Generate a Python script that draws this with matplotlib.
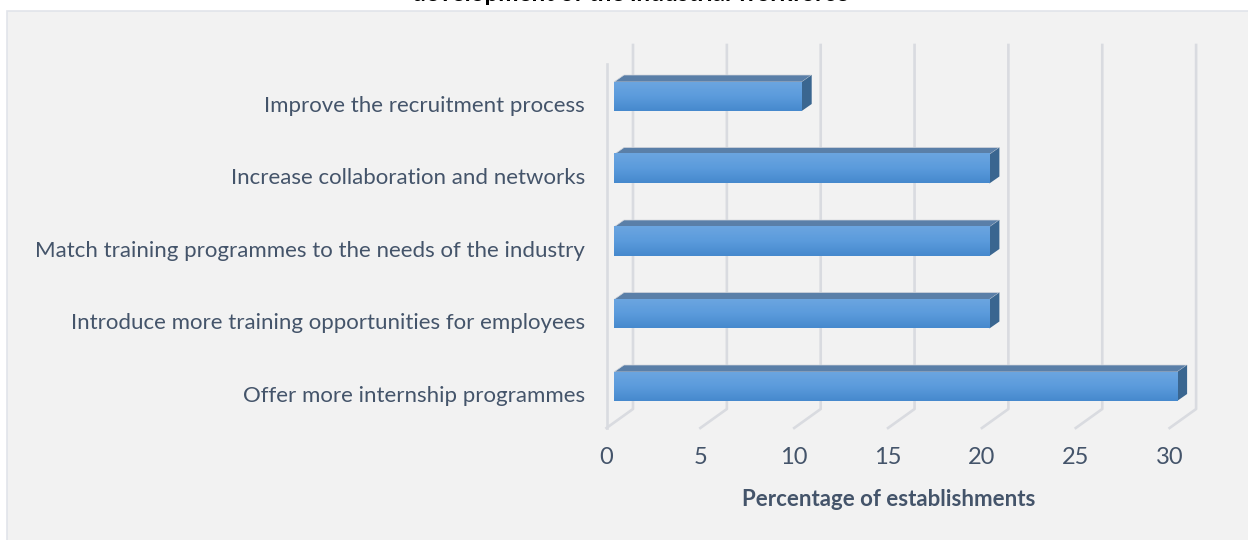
import numpy as np
import matplotlib
matplotlib.use("Agg")
import matplotlib.pyplot as plt
from matplotlib.patches import Polygon, Rectangle

plt.rcParams["font.family"] = ["Lato", "DejaVu Sans"]

# Data, bottom bar first
categories = [
    "Offer more internship programmes",
    "Introduce more training opportunities for employees",
    "Match training programmes to the needs of the industry",
    "Increase collaboration and networks",
    "Improve the recruitment process",
]
values = [30, 20, 20, 20, 10]
xticks = [0, 5, 10, 15, 20, 25, 30]
xlabel = "Percentage of establishments"
# title is cut off by the top edge of the picture, wording is a guess
title = "development of the industrial workforce"

W, H = 1248, 540
px_per_x = 18.77
px_per_y = 72.5
x0_px = 614
y0_px = 386.5

text_col = "#44546a"
grid_col = "#d9dbe0"

fig = plt.figure(figsize=(W / 100, H / 100), dpi=100, facecolor="white")

# panel behind the chart
bg = fig.add_axes([0, 0, 1, 1])
bg.set_xlim(0, W)
bg.set_ylim(H, 0)
bg.axis("off")
bg.add_patch(Rectangle((6.5, 11), W, H, facecolor="#f2f2f2", edgecolor="#e1e4ea", linewidth=1.2))

# axes placed so that x=0..30 and y=0..4 land on the bars
left = x0_px / W
width = 30 * px_per_x / W
bottom = (H - y0_px) / H
height = 4 * px_per_y / H
ax = fig.add_axes([left, bottom, width, height])
ax.set_xlim(0, 30)
ax.set_ylim(0, 4)
ax.axis("off")
ax.patch.set_visible(False)

bar_h = 0.4
dep_x = 10 / px_per_x
dep_y = 7 / px_per_y

# wall and floor offsets of the gridlines
back_x = 19 / px_per_x
front_x = -7.5 / px_per_x
top_back = (y0_px - 45) / px_per_y
top_front = (y0_px - 64) / px_per_y
floor_back = (y0_px - 409) / px_per_y
floor_front = (y0_px - 428) / px_per_y

for t in xticks:
    ax.plot([t + back_x, t + back_x, t + front_x],
            [top_back, floor_back, floor_front],
            color=grid_col, lw=1.9, clip_on=False, zorder=1, solid_joinstyle="round")
ax.plot([front_x, front_x], [top_front, floor_front],
        color=grid_col, lw=1.9, clip_on=False, zorder=1)

grad = np.linspace(0, 1, 64).reshape(-1, 1)
cmap = matplotlib.colors.LinearSegmentedColormap.from_list("bar", ["#6ba5e0", "#5b9bdc", "#4689cd"])

for i, v in enumerate(values):
    y1, y2 = i - bar_h / 2, i + bar_h / 2
    # top face
    ax.add_patch(Polygon([(0, y2), (dep_x, y2 + dep_y), (v + dep_x, y2 + dep_y), (v, y2)],
                         facecolor="#5a7fa8", edgecolor="#d3d6dc", linewidth=0.5, clip_on=False, zorder=3))
    # side face
    ax.add_patch(Polygon([(v, y1), (v + dep_x, y1 + dep_y), (v + dep_x, y2 + dep_y), (v, y2)],
                         facecolor="#3a6690", edgecolor="none", clip_on=False, zorder=3))
    # front face with the vertical gradient
    ax.imshow(grad, extent=(0, v, y1, y2), aspect="auto", cmap=cmap, origin="upper",
              zorder=4, clip_on=False)
ax.set_xlim(0, 30)
ax.set_ylim(0, 4)

for i, c in enumerate(categories):
    ax.text((585 - x0_px) / px_per_x, i - 0.13, c, ha="right", va="center",
            fontsize=16.05, color=text_col, clip_on=False)

for t in xticks:
    ax.text(t + front_x, (y0_px - 458) / px_per_y, str(t), ha="center", va="center",
            fontsize=17, color=text_col, clip_on=False)

ax.text((889 - x0_px) / px_per_x, (y0_px - 500) / px_per_y, xlabel, ha="center", va="center",
        fontsize=16, fontweight="bold", color=text_col, clip_on=False)

bg.text(630, 1.2, title, ha="center", va="baseline", fontsize=17.5, fontweight="bold", color="black")

fig.savefig("out.png", dpi=100)
